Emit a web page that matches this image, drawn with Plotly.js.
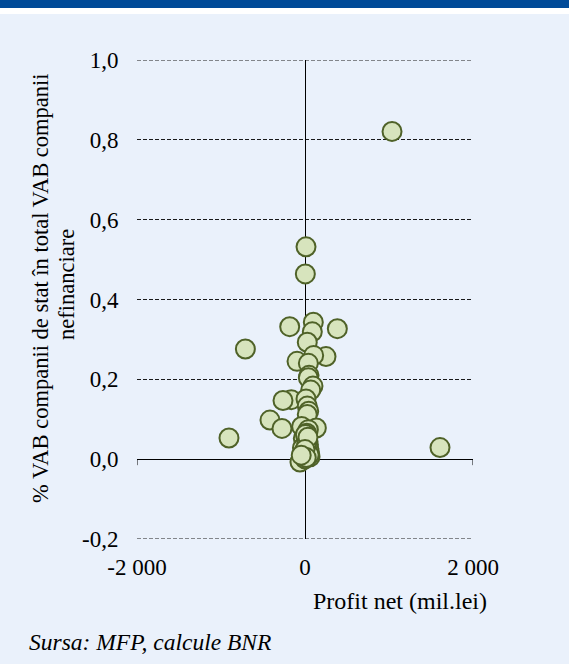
<!DOCTYPE html>
<html>
<head>
<meta charset="utf-8">
<script src="https://cdn.plot.ly/plotly-3.0.1.min.js"></script>
<style>
html,body{margin:0;padding:0;background:#ffffff;width:569px;height:664px;overflow:hidden;}
#bar{height:8px;background:#004A98;}
#gap{height:6px;background:#ffffff;}
#chart{width:569px;height:650px;background:#EAF1FB;}
</style>
</head>
<body>
<div id="bar"></div><div id="gap"></div>
<div id="chart"></div>
<script>
// Profit net (mil. lei)
const profitNet = [1036, 1607, -905, -710, 12, 4, -182, 99, 87, 385, 27, 250, 103, -95, 40, 48, 40, 95, 68,
  -163, -262, 12, 27, 44, 27, -417, -274, 135, -40, 40,
  12, 27, 0, 40, 12, 27, -12, 52, -40, 60, -60, 0, 20, 35, 5,
  -20, 15, 30, 45, -5, 25, 10, -30, 50, 5, 20, -15, 35, 0, 15, -45];
// % VAB companii de stat in total VAB companii nefinanciare
const vabShare = [0.821, 0.029, 0.053, 0.276, 0.532, 0.464, 0.332, 0.343, 0.319, 0.327, 0.293, 0.257, 0.260, 0.245, 0.240, 0.210, 0.204, 0.183, 0.173,
  0.149, 0.147, 0.151, 0.133, 0.120, 0.112, 0.098, 0.077, 0.078, 0.082, 0.074,
  0.059, 0.049, 0.041, 0.037, 0.029, 0.026, 0.018, 0.018, 0.008, 0.006, -0.007, 0.001, 0.065, 0.045, 0.033,
  0.052, 0.056, 0.044, 0.027, 0.035, 0.021, 0.015, 0.028, 0.011, 0.062, 0.038, 0.012, 0.055, 0.024, 0.004, 0.010];
const xTickVals = [-2000, 0, 2000];
const xTickText = ['-2 000', '0', '2 000'];
const yTickVals = [-0.2, 0, 0.2, 0.4, 0.6, 0.8, 1.0];
const yTickText = ['-0,2', '0,0', '0,2', '0,4', '0,6', '0,8', '1,0'];

const FONT = '"Liberation Serif", "Times New Roman", serif';
const L = 137, R = 473, T = 60, B = 539, TOP = 14;
const pw = R - L, ph = B - T;
function px(x){ return (x - L) / pw; }
function py(y){ return (B - y) / ph; }

const trace = {
  type: 'scatter', mode: 'markers', x: profitNet, y: vabShare,
  marker: {size: 19, color: '#D7E4BD', line: {color: '#4F6228', width: 2}},
  hoverinfo: 'skip', showlegend: false, cliponaxis: false
};

const gridDash = {color: '#1a1a1a', width: 1, dash: '4px,2px'};

const layout = {
  width: 569, height: 650,
  margin: {l: L, r: 569 - R, t: T - TOP, b: 650 - (B - TOP)},
  paper_bgcolor: '#EAF1FB', plot_bgcolor: '#EAF1FB',
  font: {family: FONT, size: 23, color: '#000'},
  showlegend: false,
  xaxis: {
    range: [-2000, 2000], tickmode: 'array', tickvals: xTickVals, ticktext: xTickText,
    showgrid: false, zeroline: true, zerolinecolor: '#000', zerolinewidth: 1,
    showline: false, ticks: 'outside', ticklen: 7, tickcolor: 'rgba(0,0,0,0)',
    tickfont: {family: FONT, size: 23, color: '#000'}, fixedrange: true
  },
  yaxis: {
    range: [-0.2, 1.0], tickmode: 'array', tickvals: yTickVals, ticktext: yTickText,
    showgrid: true, gridcolor: '#1a1a1a', gridwidth: 1, griddash: '4px,2px',
    zeroline: true, zerolinecolor: '#000', zerolinewidth: 1,
    showline: false, ticks: 'outside', ticklen: 13, tickcolor: 'rgba(0,0,0,0)',
    tickfont: {family: FONT, size: 23, color: '#000'}, fixedrange: true
  },
  shapes: [
    {type: 'line', xref: 'paper', yref: 'y', x0: 0, x1: 1, y0: 1.0, y1: 1.0, line: gridDash, layer: 'below'},
    {type: 'line', xref: 'paper', yref: 'y', x0: 0, x1: 1, y0: -0.2, y1: -0.2, line: gridDash, layer: 'below'},
    {type: 'line', xref: 'x', yref: 'y', ysizemode: 'pixel', yanchor: 0, x0: -2000, x1: -2000, y0: 0, y1: -6, line: {color: '#000', width: 1}},
    {type: 'line', xref: 'x', yref: 'y', ysizemode: 'pixel', yanchor: 0, x0: 2000, x1: 2000, y0: 0, y1: -6, line: {color: '#000', width: 1}}
  ],
  annotations: [
    {text: '% VAB companii de stat în total VAB companii', xref: 'paper', yref: 'paper',
     x: px(40), y: py(288), xanchor: 'center', yanchor: 'middle', textangle: -90, showarrow: false,
     font: {family: FONT, size: 22.5, color: '#000'}},
    {text: 'nefinanciare', xref: 'paper', yref: 'paper',
     x: px(66), y: py(285), xanchor: 'center', yanchor: 'middle', textangle: -90, showarrow: false,
     font: {family: FONT, size: 22.5, color: '#000'}},
    {text: 'Profit net (mil.lei)', xref: 'paper', yref: 'paper',
     x: px(400), y: py(601), xanchor: 'center', yanchor: 'middle', showarrow: false,
     font: {family: FONT, size: 24, color: '#000'}},
    {text: '<i>Sursa: MFP, calcule BNR</i>', xref: 'paper', yref: 'paper',
     x: px(27), y: py(642), xanchor: 'left', yanchor: 'middle', showarrow: false,
     font: {family: FONT, size: 23.5, color: '#000'}}
  ]
};

Plotly.newPlot('chart', [trace], layout, {staticPlot: true, displayModeBar: false});
</script>
</body>
</html>
